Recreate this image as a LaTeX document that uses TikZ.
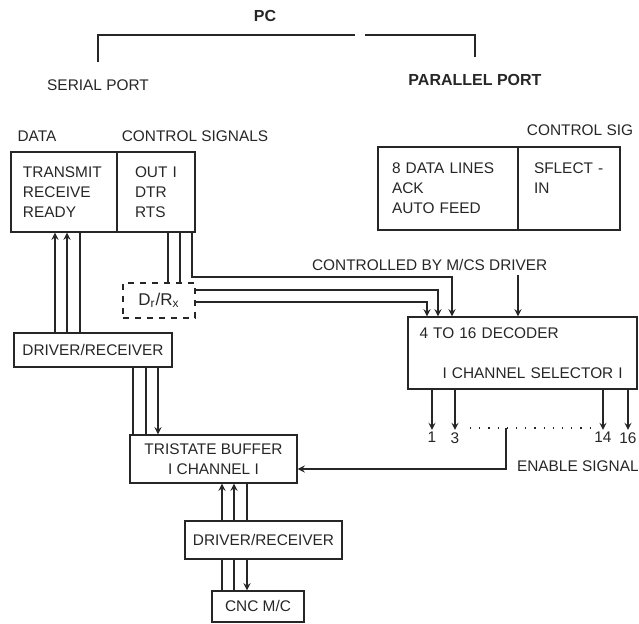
\documentclass[tikz,border=0pt]{standalone}
\usepackage{fontspec}
\setmainfont{Liberation Sans}
\begin{document}
\begin{tikzpicture}[x=.5pt,y=-.5pt,>=stealth,
  font=\fontsize{7.7}{10}\selectfont, color=black!85,
  box/.style={draw,line width=.7pt,inner sep=0pt,align=left},
  bus/.style={line width=.6pt},
  heading/.style={font=\fontsize{8}{10}\selectfont\bfseries}]
\useasboundingbox (0,0) rectangle (639,624);
% PC and its two ports
\node[heading] (pc) at (265,16) {PC};
\node (serport) at (98,85) {SERIAL PORT};
\node[heading] (parport) at (475,80) {PARALLEL PORT};
\coordinate (pcl) at (355,35);
\coordinate (pcr) at (365,35);
\draw[bus] ([yshift=5pt]serport.north) |- (pcl);
\draw[bus] (pcr) -| ([yshift=5pt]parport.north);

% serial port
\node (data) at (37,136) {DATA};
\node (ctlsig) at (195,136) {CONTROL SIGNALS};
\node[box,minimum width=53pt,minimum height=40pt,text width=41pt,inner xsep=6pt] (serdata) at (64,192) {TRANSMIT\\RECEIVE\\READY};
\node[box,minimum width=39pt,minimum height=40pt,text width=21pt,inner xsep=9pt] (serctl) at (156,192) {OUT I\\DTR\\RTS};

% parallel port
\node (ctlsigpar) at (580,130) {CONTROL SIG};
\node[box,minimum width=70pt,minimum height=41.5pt,text width=56pt,inner xsep=7pt] (pardata) at (448,188.5) {8 DATA LINES\\ACK\\AUTO FEED};
\node[box,minimum width=51pt,minimum height=41.5pt,text width=35pt,inner xsep=8pt] (parctl) at (569,188.5) {SFLECT -\\IN\\\mbox{}};

% chain down to the machine
\node[box,dashed,minimum width=36pt,minimum height=17.5pt,align=center,font=\fontsize{8.5}{10}\selectfont] (drx) at (159,300.5) {D\textsubscript{r}/R\textsubscript{x}};
\node[box,minimum width=79pt,minimum height=17pt,align=center] (drvone) at (93,350) {DRIVER/RECEIVER};
\node[box,minimum width=83.5pt,minimum height=24pt,align=center] (tri) at (213.5,459) {TRISTATE BUFFER\\I CHANNEL I};
\node[box,minimum width=78.5pt,minimum height=19pt,align=center] (drvtwo) at (263.5,540) {DRIVER/RECEIVER};
\node[box,minimum width=46pt,minimum height=15.5pt,align=center] (cnc) at (258,606.5) {CNC M/C};

% decoder
\node[anchor=west] (ctrlby) at (305,265) {CONTROLLED BY M/CS DRIVER};
\node[box,minimum width=114.5pt,minimum height=36pt,text width=103pt,inner xsep=5.75pt] (dec) at (522.5,353) {4 TO 16 DECODER\\[10pt]\hspace*{11.5pt}I CHANNEL SELECTOR I};
\coordinate (ctrlin) at (518,275);
\draw[bus,->] (ctrlin) -- (ctrlin |- dec.north);

% x positions of the bus lines
\foreach \n/\x in {sda/55,sdb/67,sdc/80,sca/168,scb/180,scc/192,dra/133,drb/146,drc/158,tra/222,trb/234,trc/247}
  \coordinate (\n) at (\x,0);

\draw[bus,->] (sda |- drvone.north) -- (sda |- serdata.south);
\draw[bus,->] (sdb |- drvone.north) -- (sdb |- serdata.south);
\draw[bus] (sdc |- drvone.north) -- (sdc |- serdata.south);
\draw[bus] (sca |- serctl.south) -- (sca |- drx.north);
\draw[bus] (scb |- serctl.south) -- (scb |- drx.north);
\coordinate (cta) at (452,277);
\coordinate (ctb) at (438,290);
\coordinate (ctc) at (427,302);
\draw[bus,->] (scc |- serctl.south) |- (cta) -- (cta |- dec.north);
\draw[bus,->] (drx.east |- ctb) -- (ctb) -- (ctb |- dec.north);
\draw[bus,->] (drx.east |- ctc) -- (ctc) -- (ctc |- dec.north);

\draw[bus] (dra |- drvone.south) -- (dra |- tri.north);
\draw[bus] (drb |- drvone.south) -- (drb |- tri.north);
\draw[bus,->] (drc |- drvone.south) -- (drc |- tri.north);
\draw[bus,->] (tra |- drvtwo.north) -- (tra |- tri.south);
\draw[bus,->] (trb |- drvtwo.north) -- (trb |- tri.south);
\draw[bus] (trc |- drvtwo.north) -- (trc |- tri.south);
\draw[bus] (tra |- drvtwo.south) -- (tra |- cnc.north);
\draw[bus] (trb |- drvtwo.south) -- (trb |- cnc.north);
\draw[bus,->] (trc |- drvtwo.south) -- (trc |- cnc.north);

% decoder outputs
\foreach \n/\x in {1/432,3/455,14/603,16/628} {
  \node[anchor=north,inner sep=1pt] (out\n) at (\x,430) {\n};
  \draw[bus,->] (out\n |- dec.south) -- (out\n.north);
}
\coordinate (dotl) at (470,428);
\coordinate (dotr) at (597,428);
\draw[bus,loosely dotted] (dotl) -- (dotr);
\coordinate (ens) at (506,428);
\draw[bus,->] (ens) |- ([yshift=-5pt]tri.east);
\node[anchor=west] (enable) at (510,466) {ENABLE SIGNAL};
\end{tikzpicture}
\end{document}
